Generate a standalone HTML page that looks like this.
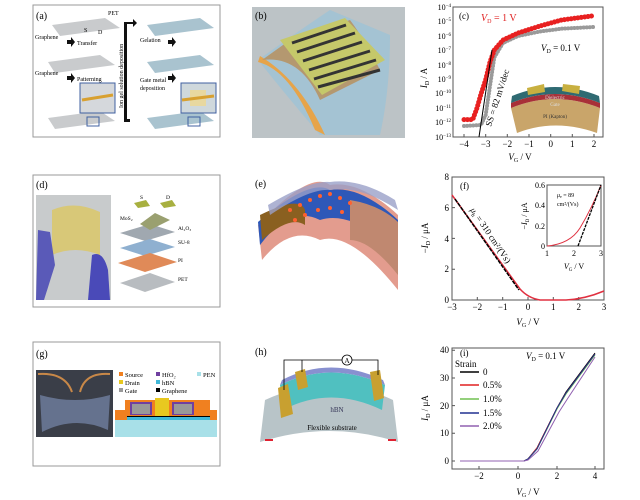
<!DOCTYPE html>
<html><head><meta charset="utf-8"><style>
html,body{margin:0;padding:0;background:#fff}
svg{display:block;font-family:"Liberation Serif",serif}
</style></head><body>
<svg width="640" height="500" viewBox="0 0 640 500" xmlns="http://www.w3.org/2000/svg">
<rect width="640" height="500" fill="#fff"/>

<!-- (a) -->
<rect x="33" y="5" width="187" height="132" fill="#fff" stroke="#999" stroke-width="1"/>
<text x="36" y="19" font-size="10">(a)</text>
<g fill="#c9cbcd">
<polygon points="52,25 105,18 120,28 60,36"/>
<polygon points="48,62 100,55 115,65 55,73"/>
<polygon points="48,118 100,111 115,121 55,129"/>
</g>
<g fill="#a9c3cf">
<polygon points="147,25 200,18 214,28 155,36"/>
<polygon points="147,62 200,55 214,65 155,73"/>
<polygon points="147,118 200,111 214,121 155,129"/>
</g>
<text x="108" y="15" font-size="6">PET</text>
<text x="84" y="32" font-size="6">S</text><text x="98" y="34" font-size="6">D</text>
<text x="35" y="39" font-size="6">Graphene</text><text x="77" y="45" font-size="6">Transfer</text>
<text x="35" y="75" font-size="6">Graphene</text><text x="77" y="81" font-size="6">Patterning</text>
<text x="140" y="42" font-size="6">Gelation</text>
<text x="140" y="82" font-size="6">Gate metal</text><text x="140" y="90" font-size="6">deposition</text>
<path d="M67,40 h4 v-3 l4,5 -4,5 v-3 h-4z" fill="#111"/>
<path d="M67,76 h4 v-3 l4,5 -4,5 v-3 h-4z" fill="#111"/>
<rect x="124" y="22" width="3" height="100" fill="#111"/><rect x="124" y="119" width="6" height="3" fill="#111"/><path d="M124,22 h9 v-3 l4,4 -4,4 v-3 h-9z" fill="#111"/>
<text x="0" y="0" font-size="6" transform="translate(123,108) rotate(-90)">Ion gel solution deposition</text>
<path d="M168,40 h4 v-3 l4,5 -4,5 v-3 h-4z" fill="#111"/>
<path d="M168,76 h4 v-3 l4,5 -4,5 v-3 h-4z" fill="#111"/>
<rect x="80" y="83" width="35" height="30" fill="#d5d8dc" stroke="#4060a0"/>
<line x1="82" y1="100" x2="113" y2="95" stroke="#d8a030" stroke-width="3"/>
<rect x="87" y="117" width="12" height="9" fill="none" stroke="#4060a0"/>
<rect x="181" y="83" width="35" height="30" fill="#cfd8dc" stroke="#4060a0"/>
<rect x="190" y="90" width="16" height="16" fill="#e8d8a0"/>
<line x1="182" y1="100" x2="214" y2="96" stroke="#d8a030" stroke-width="3"/>
<rect x="188" y="117" width="12" height="9" fill="none" stroke="#4060a0"/>

<!-- (b) -->
<rect x="252" y="7" width="153" height="131" fill="#bcc3c6"/>
<text x="255" y="19" font-size="10">(b)</text>
<path d="M258,60 Q300,30 330,10 L390,35 Q390,90 380,135 L320,135 Q290,100 258,60z" fill="#9ec3d6" opacity="0.8"/>
<path d="M258,62 Q290,70 315,130 L325,135 Q300,80 260,56z" fill="#e6a44a"/>
<path d="M262,60 Q300,55 320,100 L380,70 Q365,40 350,20 L290,40z" fill="#b49870"/>
<path d="M280,40 L345,18 L385,60 L322,95z" fill="#c5c86a"/>
<g stroke="#333" stroke-width="3">
<line x1="292" y1="43" x2="346" y2="25"/><line x1="297" y1="52" x2="355" y2="33"/><line x1="303" y1="61" x2="362" y2="42"/><line x1="309" y1="70" x2="370" y2="51"/><line x1="314" y1="79" x2="376" y2="60"/><line x1="318" y1="87" x2="380" y2="70"/>
</g>

<!-- (c) -->
<g font-size="9">
<rect x="453" y="7" width="150" height="130" fill="none" stroke="#555"/>
<g fill="none" stroke="#555"><path d="M464,137v-3M485.7,137v-3M507.3,137v-3M529,137v-3M550.7,137v-3M572.3,137v-3M594,137v-3"/></g>
<g text-anchor="middle"><text x="464" y="147">−4</text><text x="485.7" y="147">−3</text><text x="507.3" y="147">−2</text><text x="529" y="147">−1</text><text x="550.7" y="147">0</text><text x="572.3" y="147">1</text><text x="594" y="147">2</text></g>
<g text-anchor="end" font-size="8">
<text x="451" y="10">10<tspan dy="-3" font-size="5">−4</tspan></text>
<text x="451" y="24">10<tspan dy="-3" font-size="5">−5</tspan></text>
<text x="451" y="39">10<tspan dy="-3" font-size="5">−6</tspan></text>
<text x="451" y="53">10<tspan dy="-3" font-size="5">−7</tspan></text>
<text x="451" y="68">10<tspan dy="-3" font-size="5">−8</tspan></text>
<text x="451" y="82">10<tspan dy="-3" font-size="5">−9</tspan></text>
<text x="451" y="96">10<tspan dy="-3" font-size="5">−10</tspan></text>
<text x="451" y="111">10<tspan dy="-3" font-size="5">−11</tspan></text>
<text x="451" y="125">10<tspan dy="-3" font-size="5">−12</tspan></text>
<text x="451" y="140">10<tspan dy="-3" font-size="5">−13</tspan></text>
</g>
<text x="520" y="160" text-anchor="middle" font-style="italic">V<tspan font-size="6" dy="2" font-style="normal">G</tspan><tspan dy="-2" font-style="normal"> / V</tspan></text>
<text transform="translate(427,78) rotate(-90)" text-anchor="middle"><tspan font-style="italic">I</tspan><tspan font-size="6" dy="2">D</tspan><tspan dy="-2"> / A</tspan></text>
<text x="459" y="19">(c)</text>
<text x="481" y="21" fill="#e02020" font-size="10"><tspan font-style="italic">V</tspan><tspan font-size="6" dy="2">D</tspan><tspan dy="-2"> = 1 V</tspan></text>
<text x="541" y="51" font-size="9"><tspan font-style="italic">V</tspan><tspan font-size="6" dy="2">D</tspan><tspan dy="-2"> = 0.1 V</tspan></text>
<path d="M511,108 Q555,90 600,108 L597,133 Q555,118 517,133z" fill="#c9a56a"/>
<path d="M511,103 Q555,85 600,103 L600,108 Q555,90 511,108z" fill="#a83038"/>
<path d="M512,96 Q555,78 599,96 L600,103 Q555,85 511,103z" fill="#2f6a72"/>
<polygon points="527,88 544,84 545,92 528,95" fill="#c8b040"/>
<polygon points="563,84 580,86 579,94 562,91" fill="#c8b040"/>
<text x="555" y="99" font-size="5" text-anchor="middle" fill="#ddd">Dielectric</text>
<text x="555" y="106" font-size="5" text-anchor="middle" fill="#ddd">Gate</text>
<text x="555" y="118" font-size="5" text-anchor="middle" fill="#333">PI (Kapton)</text>
<polyline points="464,126 472.7,125.5 481,125 485.7,115 490,86 494.3,57.5 503,43 518,36 540,31.5 561.5,28.7 594,27" fill="none" stroke="#9a9a9a" stroke-width="4" stroke-linecap="round" stroke-dasharray="0.1 3"/>
<polyline points="464,119.6 472.7,119.6 477,108 481,94 485.7,79.6 490,62 494.3,50 503,40 518,33 540,26 561.5,20 594,15.7" fill="none" stroke="#e82020" stroke-width="5" stroke-linecap="round" stroke-dasharray="0.1 3.3"/>
<line x1="479" y1="137" x2="492" y2="50" stroke="#000" stroke-width="1"/>
<text transform="translate(491,127) rotate(-72)" font-size="9">SS = 82 mV/dec</text>
</g>

<!-- (d) -->
<rect x="33" y="175" width="187" height="132" fill="#fff" stroke="#999"/>
<text x="36" y="188" font-size="10">(d)</text>
<rect x="36" y="195" width="75" height="105" fill="#c8cbcc"/>
<path d="M52,210 Q75,200 100,212 L100,255 Q75,245 52,255z" fill="#d8c878"/>
<path d="M38,230 L50,232 L55,265 L44,300 L36,300z" fill="#5a5ab8"/>
<path d="M92,255 Q103,250 108,270 L110,300 L88,300z" fill="#4a4ab8"/>
<polygon points="120,233 150,224 175,232 145,241" fill="#a0a8b0"/>
<polygon points="120,248 150,239 175,247 145,256" fill="#8fb0d0"/>
<polygon points="118,263 150,253 177,262 145,272" fill="#e08a58"/>
<polygon points="120,283 150,273 175,282 145,292" fill="#b8bcc0"/>
<polygon points="140,224 155,213 170,220 150,230" fill="#9aa070"/>
<polygon points="134,203 146,200 150,206 138,208" fill="#a8b040"/>
<polygon points="160,203 172,200 176,206 164,208" fill="#a8b040"/>
<g font-size="5.5"><text x="140" y="199">S</text><text x="166" y="199">D</text><text x="120" y="220">MoS₂</text><text x="178" y="230">Al₂O₃</text><text x="178" y="244">SU-8</text><text x="178" y="262">PI</text><text x="178" y="281">PET</text></g>

<!-- (e) -->
<text x="255" y="187" font-size="10">(e)</text>
<path d="M258,225 Q310,170 330,185 Q360,180 398,215 L398,290 Q350,230 320,240 Q290,225 262,260z" fill="#e39c8e"/>
<path d="M258,222 Q310,178 330,190 Q360,185 398,220 L398,250 Q350,210 320,220 Q290,205 260,245z" fill="#2e58b8"/>
<path d="M260,215 Q300,195 305,210 L305,225 Q290,215 262,240z" fill="#8a6020"/>
<path d="M350,200 Q380,205 398,222 L398,275 Q370,240 350,240z" fill="#c08870"/>
<path d="M268,205 Q310,180 330,182 Q360,178 395,200 L398,210 Q360,185 330,190 Q310,188 270,215z" fill="#9aa0c8" opacity="0.8"/>
<g fill="#ff6030"><circle cx="290" cy="210" r="2"/><circle cx="300" cy="205" r="2"/><circle cx="310" cy="200" r="2"/><circle cx="320" cy="196" r="2"/><circle cx="330" cy="194" r="2"/><circle cx="340" cy="198" r="2"/><circle cx="305" cy="215" r="2"/><circle cx="318" cy="210" r="2"/><circle cx="330" cy="208" r="2"/><circle cx="342" cy="212" r="2"/><circle cx="350" cy="203" r="2"/><circle cx="295" cy="220" r="2"/></g>

<!-- (f) -->
<g font-size="9">
<rect x="452" y="177" width="152" height="123" fill="none" stroke="#555"/>
<g stroke="#555"><path d="M452,300v-3M477.3,300v-3M502.7,300v-3M528,300v-3M553.3,300v-3M578.7,300v-3M604,300v-3M452,300h3M452,269.2h3M452,238.4h3M452,207.6h3M452,177h3"/></g>
<g text-anchor="middle"><text x="452" y="310">−3</text><text x="477.3" y="310">−2</text><text x="502.7" y="310">−1</text><text x="528" y="310">0</text><text x="553.3" y="310">1</text><text x="578.7" y="310">2</text><text x="604" y="310">3</text></g>
<g text-anchor="end"><text x="449" y="303">0</text><text x="449" y="272">2</text><text x="449" y="242">4</text><text x="449" y="211">6</text><text x="449" y="180">8</text></g>
<text x="528" y="325" text-anchor="middle"><tspan font-style="italic">V</tspan><tspan font-size="6" dy="2">G</tspan><tspan dy="-2"> / V</tspan></text>
<text transform="translate(428,238) rotate(-90)" text-anchor="middle">−<tspan font-style="italic">I</tspan><tspan font-size="6" dy="2">D</tspan><tspan dy="-2"> / μA</tspan></text>
<text x="460" y="189">(f)</text>
<path d="M452,195 L520,289 Q528,298 540,300 L566,300 Q585,299 604,291" fill="none" stroke="#e03040" stroke-width="1.5"/>
<line x1="455" y1="199" x2="519" y2="290" stroke="#000" stroke-width="1.5" stroke-dasharray="4 1"/>
<text transform="translate(470,210) rotate(56)" font-size="9"><tspan font-style="italic">μ</tspan><tspan font-size="6" dy="2">h</tspan><tspan dy="-2"> = 310 cm²/(Vs)</tspan></text>
<rect x="547" y="185" width="54" height="61" fill="#fff" stroke="#555"/>
<g font-size="8" text-anchor="end"><text x="545" y="188">0.6</text><text x="545" y="208">0.4</text><text x="545" y="229">0.2</text><text x="545" y="249">0</text></g>
<g font-size="8" text-anchor="middle"><text x="547" y="256">1</text><text x="574" y="256">2</text><text x="601" y="256">3</text></g>
<text x="574" y="269" font-size="8" text-anchor="middle"><tspan font-style="italic">V</tspan><tspan font-size="5" dy="2">G</tspan><tspan dy="-2"> / V</tspan></text>
<text transform="translate(527,216) rotate(-90)" font-size="8" text-anchor="middle">−<tspan font-style="italic">I</tspan><tspan font-size="5" dy="2">D</tspan><tspan dy="-2"> / μA</tspan></text>
<text x="557" y="197" font-size="6"><tspan font-style="italic">μ</tspan><tspan font-size="4" dy="1">e</tspan><tspan dy="-1"> = 89</tspan></text>
<text x="557" y="206" font-size="6">cm²/(Vs)</text>
<path d="M547,246 Q570,244 580,228 Q592,208 601,185" fill="none" stroke="#e03040" stroke-width="1"/>
<line x1="578" y1="246" x2="601" y2="185" stroke="#000" stroke-width="1.3" stroke-dasharray="3 1"/>
</g>

<!-- (g) -->
<rect x="33" y="342" width="187" height="124" fill="#fff" stroke="#999"/>
<text x="36" y="357" font-size="10">(g)</text>
<rect x="36" y="370" width="77" height="67" fill="#3a3e48"/>
<path d="M40,395 Q75,405 110,395 L108,430 Q75,415 42,432z" fill="#7080a0" opacity="0.8"/>
<path d="M38,374 Q65,372 72,392 M110,374 Q85,372 80,392" stroke="#c88848" stroke-width="2" fill="none"/>
<g font-size="6.5">
<rect x="119" y="372" width="4" height="4" fill="#f08020"/><text x="125" y="377">Source</text>
<rect x="119" y="380" width="4" height="4" fill="#e8c820"/><text x="125" y="385">Drain</text>
<rect x="119" y="388" width="4" height="4" fill="#999"/><text x="125" y="393">Gate</text>
<rect x="156" y="372" width="4" height="4" fill="#7040a0"/><text x="162" y="377">HfO₂</text>
<rect x="156" y="380" width="4" height="4" fill="#40b8d8"/><text x="162" y="385">hBN</text>
<rect x="156" y="388" width="4" height="4" fill="#000"/><text x="162" y="393">Graphene</text>
<rect x="197" y="372" width="4" height="4" fill="#a8e0e8"/><text x="203" y="377">PEN</text>
</g>
<rect x="115" y="420" width="102" height="17" fill="#a8e0e8"/>
<rect x="115" y="410" width="102" height="10" fill="#f08020"/>
<rect x="125" y="400" width="85" height="12" fill="#f08020"/>
<rect x="155" y="398" width="14" height="20" fill="#e8c820"/>
<rect x="127" y="417" width="83" height="3" fill="#40b8d8"/><rect x="127" y="416" width="83" height="1" fill="#000"/>
<rect x="130" y="402" width="22" height="13" fill="#7040a0"/><rect x="132" y="404" width="18" height="10" fill="#999"/>
<rect x="172" y="402" width="22" height="13" fill="#7040a0"/><rect x="174" y="404" width="18" height="10" fill="#999"/>

<!-- (h) -->
<text x="255" y="355" font-size="10">(h)</text>
<path d="M265,400 Q330,370 393,400 L398,442 Q330,420 260,442z" fill="#b8c4c8"/>
<path d="M280,385 Q330,360 385,385 L382,410 Q330,385 283,410z" fill="#50c0c0"/>
<path d="M282,380 Q330,355 383,380 L385,385 Q330,360 280,385z" fill="#8890d0"/>
<path d="M278,388 l10,-4 l5,30 l-12,4z" fill="#c8a030"/>
<path d="M295,372 l10,-3 l3,18 l-10,3z" fill="#c8a030"/>
<path d="M370,372 l10,-2 l4,28 l-10,3z" fill="#c8a030"/>
<polyline points="284,390 284,360 378,360 378,375" fill="none" stroke="#000" stroke-width="0.8"/>
<line x1="302" y1="360" x2="302" y2="372" stroke="#000" stroke-width="0.8"/>
<circle cx="347" cy="360" r="5" fill="#fff" stroke="#000" stroke-width="0.8"/><text x="347" y="363" font-size="7" text-anchor="middle">A</text>
<text x="337" y="412" font-size="7" text-anchor="middle" fill="#335">hBN</text>
<text x="332" y="430" font-size="7" text-anchor="middle">Flexible substrate</text>
<path d="M265,440 h8" stroke="#e02030" stroke-width="2"/><path d="M396,440 h-8" stroke="#e02030" stroke-width="2"/>

<!-- (i) -->
<g font-size="9">
<rect x="452" y="348" width="152" height="121" fill="none" stroke="#555"/>
<g stroke="#555"><path d="M479,469v-3M518,469v-3M557,469v-3M595,469v-3M452,461h3M452,433.3h3M452,405.6h3M452,378h3M452,350.2h3"/></g>
<g text-anchor="middle"><text x="479" y="479">−2</text><text x="518" y="479">0</text><text x="557" y="479">2</text><text x="595" y="479">4</text></g>
<g text-anchor="end"><text x="449" y="464">0</text><text x="449" y="436">10</text><text x="449" y="409">20</text><text x="449" y="381">30</text><text x="449" y="353">40</text></g>
<text x="528" y="495" text-anchor="middle"><tspan font-style="italic">V</tspan><tspan font-size="6" dy="2">G</tspan><tspan dy="-2"> / V</tspan></text>
<text transform="translate(428,408) rotate(-90)" text-anchor="middle"><tspan font-style="italic">I</tspan><tspan font-size="6" dy="2">D</tspan><tspan dy="-2"> / μA</tspan></text>
<text x="460" y="356">(i)</text>
<text x="526" y="359"><tspan font-style="italic">V</tspan><tspan font-size="6" dy="2">D</tspan><tspan dy="-2"> = 0.1 V</tspan></text>
<text x="455" y="367">Strain</text>
<g stroke-width="1.5">
<line x1="460" y1="372" x2="479" y2="372" stroke="#000"/><text x="483" y="375">0</text>
<line x1="460" y1="385" x2="479" y2="385" stroke="#e02020"/><text x="483" y="388">0.5%</text>
<line x1="460" y1="399" x2="479" y2="399" stroke="#70c050"/><text x="483" y="402">1.0%</text>
<line x1="460" y1="413" x2="479" y2="413" stroke="#203090"/><text x="483" y="416">1.5%</text>
<line x1="460" y1="426" x2="479" y2="426" stroke="#9060b0"/><text x="483" y="429">2.0%</text>
</g>
<g fill="none" stroke-width="1">
<polyline points="460,461 524,461 528,459 537,448 557,408 566,392 595,353" stroke="#000"/>
<polyline points="460,461 524,461 528,459 537,448 557,408 566,393 595,354" stroke="#e02020"/>
<polyline points="460,461 524,461 528,459 537,449 557,409 566,394 595,355" stroke="#70c050"/>
<polyline points="460,461 524,461 528,459 537,449 557,408 566,393 595,354" stroke="#203090"/>
<polyline points="460,461 524,461 528,460 538,451 559,412 568,398 595,357" stroke="#9060b0"/>
</g>
</g>
</svg>
</body></html>
